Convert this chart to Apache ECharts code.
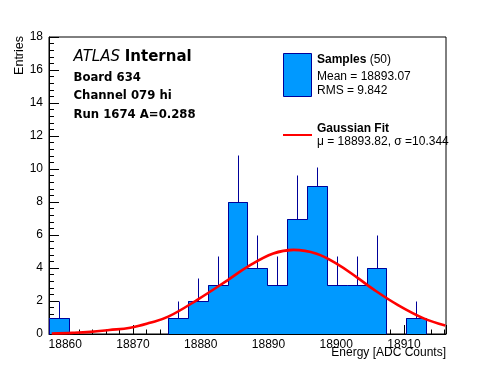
<!DOCTYPE html>
<html>
<head>
<meta charset="utf-8">
<script src="https://cdn.jsdelivr.net/npm/echarts@6/dist/echarts.min.js"></script>
<style>
html,body{margin:0;padding:0;background:#fff;}
#c{width:496px;height:372px;}
</style>
</head>
<body>
<div id="c"></div>
<script>
// ---- data ----
const binStart = 18857.6;
const binWidth = 2.93;
const counts = [1,0,0,0,0,0,1,2,3,8,4,3,7,9,3,3,4,0,1,0];
const errTop = [2,0,0,0,0,0,2,3.41,4.73,10.83,6,4.73,9.65,10.15,4.73,4.73,6,0,2,0];
const fitX = [18858.0,18861.0,18863.7,18866.5,18869.6,18872.5,18875.2,18879.6,18884.1,18887.0,18890.7,18893.7,18897.1,18900.1,18903.0,18905.5,18909.0,18912.9,18916.1];
const fitY = [0.03,0.07,0.13,0.24,0.38,0.68,1.05,2.10,3.30,4.10,4.88,5.10,4.87,4.25,3.45,2.70,1.78,0.95,0.52];
const axisMinX = 18857.6, axisMaxX = 18916.2;
const axisMinY = 0, axisMaxY = 18, yStep = 2;
const title1a = 'ATLAS', title1b = 'Internal';
const infoLines = ['Board 634', 'Channel 079 hi', 'Run 1674 A=0.288'];
const legSamples = 'Samples', legN = '(50)';
const legMean = 'Mean = 18893.07', legRms = 'RMS = 9.842';
const legFit = 'Gaussian Fit', legFitPar = 'μ = 18893.82, σ =10.344';
const xTitle = 'Energy [ADC Counts]', yTitle = 'Entries';

// ---- styling ----
const FILL = '#0099ff';
const EDGE = '#000099';
const FONT = 'Liberation Sans, Arial, Helvetica, sans-serif';
const FONT2 = 'DejaVu Sans, sans-serif';

const histData = counts.map((v, i) => [
  binStart + i * binWidth,
  binStart + (i + 1) * binWidth,
  v,
  i > 0 ? counts[i - 1] : 0,
  errTop[i]
]);
const fitData = fitX.map((x, i) => [x, fitY[i]]);

const px = v => Math.round(v) + 0.5;

const chart = echarts.init(document.getElementById('c'), null, {renderer: 'canvas'});
chart.setOption({
  animation: false,
  backgroundColor: '#fff',
  grid: {left: 49, right: 50, top: 37, bottom: 38, show: true, borderColor: '#000', borderWidth: 1, backgroundColor: 'transparent'},
  xAxis: {
    type: 'value', min: axisMinX, max: axisMaxX, splitNumber: 6,
    axisLine: {show: true, onZero: false, lineStyle: {color: '#000', width: 1}},
    axisTick: {show: true, inside: true, length: 9, lineStyle: {color: '#000'}},
    minorTick: {show: true, splitNumber: 5, length: 4.5, lineStyle: {color: '#000'}},
    splitLine: {show: false},
    axisLabel: {color: '#000', fontFamily: FONT, fontSize: 12, margin: 5, showMinLabel: false, showMaxLabel: false,
      formatter: v => String(Math.round(v))}
  },
  yAxis: {
    type: 'value', min: axisMinY, max: axisMaxY, interval: yStep,
    axisLine: {show: true, lineStyle: {color: '#000', width: 1}},
    axisTick: {show: true, inside: true, length: 10, lineStyle: {color: '#000'}},
    minorTick: {show: true, splitNumber: 5, length: 5, lineStyle: {color: '#000'}},
    splitLine: {show: false},
    axisLabel: {color: '#000', fontFamily: FONT, fontSize: 12, margin: 6}
  },
  series: [
    {
      type: 'custom', z: 2, data: histData, encode: {x: [0, 1], y: 2},
      renderItem: function (params, api) {
        const x0 = api.value(0), x1 = api.value(1), v = api.value(2);
        if (!(v > 0)) return {type: 'group', children: []};
        const a = api.coord([x0, 0]), b = api.coord([x1, v]);
        const l = Math.round(a[0]), r = Math.round(b[0]) + 1, t = Math.round(b[1]), btm = Math.round(a[1]);
        return {type: 'rect', shape: {x: l, y: t, width: r - l, height: btm - t}, style: {fill: FILL}};
      }
    },
    {
      type: 'custom', z: 3, data: histData, encode: {x: [0, 1], y: 2},
      renderItem: function (params, api) {
        const x0 = api.value(0), x1 = api.value(1), v = api.value(2), prev = api.value(3), e = api.value(4);
        const ch = [];
        const ls = {stroke: EDGE, lineWidth: 1};
        const pl = api.coord([x0, v]), pr = api.coord([x1, v]), pp = api.coord([x0, prev]);
        if (prev !== v) ch.push({type: 'line', shape: {x1: px(pl[0]), y1: px(pp[1]), x2: px(pl[0]), y2: px(pl[1])}, style: ls});
        if (v > 0) {
          ch.push({type: 'line', shape: {x1: px(pl[0]), y1: px(pl[1]), x2: px(pr[0]), y2: px(pr[1])}, style: ls});
          const c = api.coord([(x0 + x1) / 2, v]), t = api.coord([(x0 + x1) / 2, e]);
          ch.push({type: 'line', shape: {x1: px(c[0]), y1: px(c[1]), x2: px(c[0]), y2: px(t[1])}, style: ls});
        }
        return {type: 'group', children: ch};
      }
    },
    {
      type: 'line', z: 4, data: fitData, smooth: 0.4, showSymbol: false, symbol: 'none',
      lineStyle: {color: '#ff0000', width: 2.6}
    }
  ],
  graphic: [
    {type: 'text', x: 73.5, y: 57, style: {
      text: '{i|' + title1a + '} {b|' + title1b + '}', textVerticalAlign: 'middle',
      rich: {i: {fontFamily: FONT2, fontStyle: 'italic', fontSize: 15, fill: '#000'}, b: {fontFamily: FONT2, fontWeight: 'bold', fontSize: 15, fill: '#000'}},
      fill: '#000', font: '15px ' + FONT2}},
    {type: 'text', x: 73.5, y: 77.6, style: {text: infoLines[0], fill: '#000', font: 'bold 11.7px ' + FONT2, textVerticalAlign: 'middle'}},
    {type: 'text', x: 73.5, y: 96, style: {text: infoLines[1], fill: '#000', font: 'bold 11.7px ' + FONT2, textVerticalAlign: 'middle'}},
    {type: 'text', x: 73.5, y: 115, style: {text: infoLines[2], fill: '#000', font: 'bold 11.7px ' + FONT2, textVerticalAlign: 'middle'}},
    {type: 'rect', shape: {x: 283.5, y: 53.5, width: 28, height: 43}, style: {fill: FILL, stroke: EDGE, lineWidth: 1}},
    {type: 'text', x: 317, y: 60, style: {
      text: '{b|' + legSamples + '} {n|' + legN + '}', textVerticalAlign: 'middle',
      rich: {b: {fontFamily: FONT, fontWeight: 'bold', fontSize: 12, fill: '#000'}, n: {fontFamily: FONT, fontSize: 12, fill: '#000'}},
      font: '12px ' + FONT}},
    {type: 'text', x: 317, y: 77, style: {text: legMean, fill: '#000', font: '12px ' + FONT, textVerticalAlign: 'middle'}},
    {type: 'text', x: 317, y: 90.3, style: {text: legRms, fill: '#000', font: '12px ' + FONT, textVerticalAlign: 'middle'}},
    {type: 'line', shape: {x1: 283, y1: 135, x2: 312, y2: 135}, style: {stroke: '#ff0000', lineWidth: 2}},
    {type: 'text', x: 317, y: 128.7, style: {text: legFit, fill: '#000', font: 'bold 12px ' + FONT, textVerticalAlign: 'middle'}},
    {type: 'text', x: 317, y: 141.7, style: {text: legFitPar, fill: '#000', font: '12px ' + FONT, textVerticalAlign: 'middle'}},
    {type: 'text', x: 446, y: 353, style: {text: xTitle, fill: '#000', font: '12px ' + FONT, textAlign: 'right', textVerticalAlign: 'middle'}},
    {type: 'text', x: 19.5, y: 36, rotation: Math.PI / 2, style: {text: yTitle, fill: '#000', font: '12.5px ' + FONT, textAlign: 'right', textVerticalAlign: 'middle'}}
  ]
});
</script>
</body>
</html>
